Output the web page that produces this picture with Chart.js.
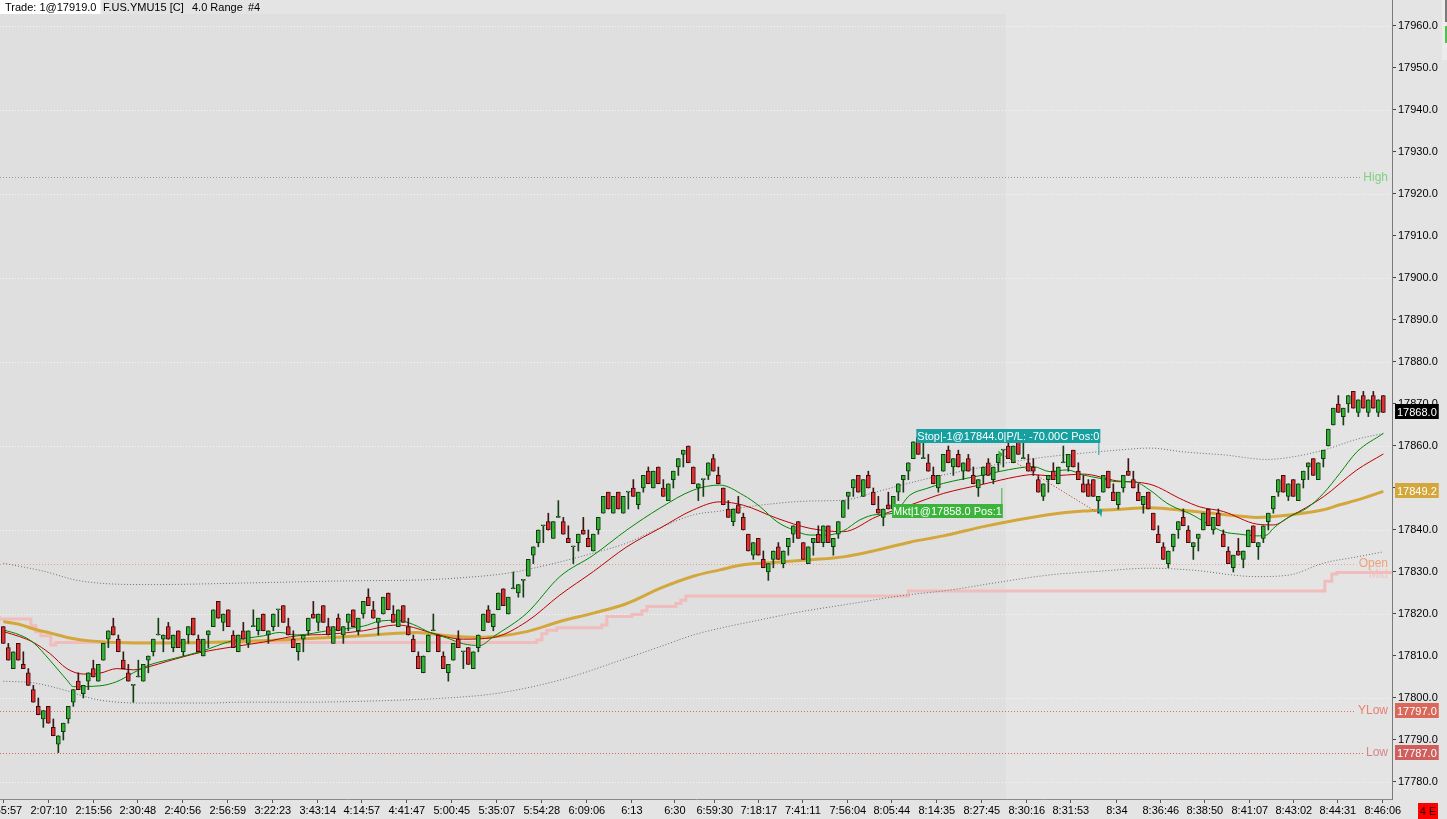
<!DOCTYPE html>
<html>
<head>
<meta charset="utf-8">
<script src="https://cdn.jsdelivr.net/npm/chart.js@4.4.1/dist/chart.umd.min.js"></script>
<style>
  html, body { margin: 0; padding: 0; background: #e4e4e4; overflow: hidden; }
  #wrap { width: 1447px; height: 819px; position: relative; }
</style>
</head>
<body>
<div id="wrap"><canvas id="chartYM"></canvas></div>
<script>

/* range bars, 4.0 points each, one entry per bar */
const opens = [
   17817,17812,17807,17813,17808,17806,17802,17798,17795,17798,
   17793,17789,17792,17795,17799,17804,17801,17804,17807,17804,
   17809,17814,17817,17814,17809,17806,17803,17805,17804,17809,
   17811,17815,17814,17817,17812,17816,17811,17815,17819,17814,
   17810,17815,17817,17823,17818,17821,17815,17811,17816,17813,
   17817,17816,17820,17815,17817,17821,17822,17817,17814,17811,
   17814,17816,17820,17818,17822,17817,17813,17819,17815,17818,
   17821,17816,17820,17824,17821,17818,17820,17825,17820,17817,
   17822,17817,17814,17810,17806,17811,17816,17815,17810,17806,
   17809,17814,17811,17812,17807,17812,17816,17821,17817,17821,
   17826,17820,17826,17825,17828,17829,17834,17837,17841,17842,
   17838,17843,17842,17838,17836,17837,17840,17838,17835,17840,
   17844,17849,17844,17849,17844,17849,17850,17846,17850,17854,
   17850,17855,17850,17847,17852,17855,17858,17860,17855,17850,
   17852,17853,17857,17853,17850,17845,17842,17846,17843,17839,
   17834,17838,17833,17830,17833,17836,17832,17836,17839,17842,
   17837,17832,17837,17839,17837,17841,17836,17839,17843,17848,
   17850,17853,17848,17853,17849,17845,17843,17846,17845,17849,
   17852,17854,17857,17862,17857,17856,17853,17850,17854,17859,
   17855,17858,17854,17857,17853,17850,17853,17856,17852,17856,
   17859,17860,17856,17861,17857,17856,17855,17852,17848,17852,
   17854,17851,17856,17855,17859,17854,17851,17851,17852,17847,
   17849,17854,17849,17846,17850,17854,17852,17849,17846,17849,
   17844,17839,17836,17832,17836,17840,17843,17840,17836,17838,
   17840,17845,17840,17844,17839,17835,17831,17835,17833,17836,
   17841,17836,17838,17842,17845,17849,17853,17848,17852,17847,
   17852,17855,17857,17852,17857,17860,17865,17870,17867,17870,
   17873,17868,17872,17868,17872,17868,17872
];
const highs = [
   17817,17813,17811,17813,17811,17807,17803,17800,17797,17798,
   17795,17791,17794,17798,17802,17806,17803,17806,17809,17808,
   17813,17816,17819,17815,17811,17808,17803,17809,17808,17810,
   17814,17819,17815,17818,17815,17816,17814,17817,17819,17815,
   17814,17816,17821,17823,17820,17821,17816,17815,17818,17816,
   17821,17819,17820,17816,17820,17821,17822,17819,17816,17813,
   17815,17819,17823,17820,17822,17819,17817,17820,17817,17820,
   17821,17819,17823,17826,17823,17819,17824,17825,17822,17821,
   17822,17819,17815,17811,17810,17815,17820,17815,17811,17808,
   17813,17816,17811,17812,17811,17815,17820,17822,17820,17825,
   17826,17824,17830,17827,17828,17833,17836,17840,17841,17844,
   17842,17847,17843,17841,17836,17839,17843,17840,17839,17843,
   17848,17849,17848,17849,17848,17849,17852,17849,17853,17855,
   17854,17855,17852,17851,17854,17857,17859,17860,17855,17851,
   17852,17856,17858,17855,17850,17847,17845,17848,17844,17839,
   17837,17838,17835,17832,17835,17837,17835,17838,17841,17842,
   17837,17836,17838,17841,17841,17841,17838,17842,17847,17849,
   17852,17853,17852,17854,17850,17848,17845,17849,17848,17851,
   17853,17856,17861,17862,17861,17858,17855,17853,17858,17860,
   17857,17859,17856,17858,17855,17852,17855,17857,17855,17858,
   17859,17861,17860,17862,17861,17858,17857,17853,17851,17853,
   17856,17855,17860,17858,17859,17856,17853,17852,17852,17848,
   17853,17854,17851,17849,17853,17857,17854,17851,17848,17849,
   17844,17841,17837,17835,17839,17842,17845,17841,17837,17839,
   17844,17845,17843,17845,17840,17836,17834,17838,17835,17840,
   17841,17837,17841,17844,17848,17852,17853,17851,17852,17851,
   17854,17856,17857,17856,17859,17864,17869,17872,17869,17872,
   17873,17871,17873,17871,17873,17871,17872
];
const lows = [
   17813,17809,17807,17809,17807,17803,17799,17796,17793,17794,
   17791,17787,17790,17794,17798,17802,17800,17802,17805,17804,
   17809,17812,17815,17811,17807,17804,17799,17805,17804,17806,
   17810,17815,17811,17814,17811,17812,17810,17813,17815,17811,
   17810,17812,17817,17819,17816,17817,17812,17811,17814,17812,
   17817,17815,17816,17813,17816,17817,17818,17815,17812,17809,
   17811,17815,17819,17816,17818,17815,17813,17816,17813,17816,
   17817,17815,17819,17822,17819,17815,17820,17821,17818,17817,
   17818,17815,17811,17807,17806,17811,17816,17811,17807,17804,
   17809,17812,17807,17808,17807,17811,17816,17818,17816,17821,
   17822,17820,17826,17824,17824,17829,17832,17836,17837,17840,
   17838,17843,17839,17837,17832,17835,17839,17836,17835,17839,
   17844,17845,17844,17845,17844,17845,17848,17845,17849,17851,
   17850,17851,17848,17847,17850,17853,17855,17856,17851,17847,
   17848,17852,17854,17851,17846,17843,17841,17844,17840,17835,
   17833,17834,17831,17828,17831,17833,17831,17834,17837,17838,
   17833,17832,17834,17837,17836,17837,17834,17838,17843,17845,
   17848,17849,17848,17850,17846,17844,17841,17845,17844,17847,
   17849,17852,17857,17858,17857,17854,17851,17849,17854,17856,
   17853,17855,17852,17854,17851,17848,17851,17853,17851,17854,
   17855,17857,17856,17858,17857,17854,17853,17849,17847,17849,
   17852,17851,17856,17854,17855,17852,17849,17848,17848,17844,
   17849,17850,17847,17845,17849,17853,17850,17847,17844,17845,
   17840,17837,17833,17831,17835,17838,17841,17837,17833,17835,
   17840,17841,17839,17841,17836,17832,17830,17834,17831,17836,
   17837,17833,17837,17840,17844,17848,17849,17847,17848,17847,
   17850,17852,17853,17852,17855,17860,17865,17868,17865,17868,
   17869,17867,17869,17867,17869,17867,17868
];
const closes = [
   17813,17809,17811,17809,17807,17803,17799,17796,17797,17794,
   17791,17791,17794,17798,17802,17802,17803,17806,17805,17808,
   17813,17816,17815,17811,17807,17804,17803,17805,17808,17810,
   17814,17815,17815,17814,17815,17812,17814,17817,17815,17811,
   17814,17816,17821,17819,17820,17817,17812,17815,17814,17816,
   17817,17819,17816,17816,17820,17821,17818,17815,17812,17813,
   17815,17819,17819,17820,17818,17815,17817,17816,17817,17820,
   17817,17819,17823,17822,17819,17819,17824,17821,17818,17821,
   17818,17815,17811,17807,17810,17815,17816,17811,17807,17808,
   17813,17812,17811,17808,17811,17815,17820,17818,17820,17825,
   17822,17824,17826,17827,17828,17833,17836,17840,17841,17840,
   17842,17843,17839,17837,17836,17839,17839,17836,17839,17843,
   17848,17845,17848,17845,17848,17849,17848,17849,17853,17851,
   17854,17851,17848,17851,17854,17857,17859,17856,17851,17851,
   17852,17856,17854,17851,17846,17843,17845,17844,17840,17835,
   17837,17834,17831,17832,17835,17833,17835,17838,17841,17838,
   17833,17836,17838,17837,17841,17837,17838,17842,17847,17849,
   17852,17849,17852,17850,17846,17844,17845,17845,17848,17851,
   17853,17856,17861,17858,17857,17854,17851,17853,17858,17856,
   17857,17855,17856,17854,17851,17852,17855,17853,17855,17858,
   17859,17857,17860,17858,17857,17854,17854,17849,17851,17853,
   17852,17855,17856,17858,17855,17852,17849,17848,17848,17848,
   17853,17850,17847,17849,17853,17853,17850,17847,17848,17845,
   17840,17837,17833,17835,17839,17842,17841,17837,17837,17839,
   17844,17841,17843,17841,17836,17832,17834,17834,17835,17840,
   17837,17837,17841,17844,17848,17852,17849,17851,17848,17851,
   17854,17856,17853,17856,17859,17864,17869,17868,17869,17872,
   17869,17871,17869,17871,17869,17871,17868
];

/* time axis: bar position of each label */
const timeIdx = [0.1, 9.1, 18.1, 26.9, 35.9, 44.9, 53.9, 62.9, 71.7, 80.7, 89.7, 98.7,
   107.7, 116.7, 125.7, 134.3, 142.3, 151.1, 159.9, 168.9, 177.7, 186.7, 195.7, 204.7,
   213.5, 222.7, 231.5, 240.3, 249.3, 258.1, 266.9, 275.9];
const timeLabels = ['1:55:57','2:07:10','2:15:56','2:30:48','2:40:56','2:56:59','3:22:23',
   '3:43:14','4:14:57','4:41:47','5:00:45','5:35:07','5:54:28','6:09:06','6:13','6:30',
   '6:59:30','7:18:17','7:41:11','7:56:04','8:05:44','8:14:35','8:27:45','8:30:16',
   '8:31:53','8:34','8:36:46','8:38:50','8:41:07','8:43:02','8:44:31','8:46:06'];

/* indicator lines, read at sample bars */
const fastIdx = [0,3.3,5.9,9.3,12.7,14,19.3,22.7,26,29.3,32.7,39.3,46,52,55.3,58.7,65.3,72,
   75.3,78.7,82,85.3,88.7,92,95.3,98,104.7,111.3,118,124.7,131.3,138,143.3,148,151.3,154.7,
   158,161.3,164.7,168,171.3,174.7,178,181.3,184.7,188,196,202.7,206,209.3,212.7,216,219.3,
   222.7,226,229.3,232.7,236,237.3,240.7,244,247.3,250.7,252.7,254,257.3,260.7,264,267.3,270.7,276];
const fastVal = [17816.2,17815.0,17813.3,17809.0,17804.3,17802.7,17802.9,17803.9,17806.0,
   17807.9,17809.0,17811.0,17813.7,17814.8,17815.6,17815.0,17816.1,17817.1,17818.3,17818.5,
   17817.5,17815.6,17814.3,17812.9,17812.5,17814.6,17820.2,17828.9,17834.0,17840.0,17845.2,
   17849.5,17850.7,17848.3,17845.6,17842.0,17840.0,17838.8,17838.8,17839.8,17842.4,17843.7,
   17844.0,17848.3,17849.9,17851.1,17853.1,17854.7,17855.1,17853.9,17854.3,17853.1,17852.3,
   17851.5,17851.5,17849.5,17846.4,17844.5,17843.9,17841.6,17839.6,17839.0,17838.6,17838.8,
   17840.4,17843.2,17845.2,17848.7,17853.5,17858.6,17863.0];

const slowIdx = [0,3.3,5.9,9.3,12.7,16,19.3,22.7,26,29.3,32.7,39.3,46,52,58.7,65.3,72,78.7,82,
   85.3,92,98,104.7,111.3,118,124.7,131.3,138,143.3,148,154.7,161.3,168,174.7,181.3,188,196,
   202.7,206,209.3,216,222.7,229.3,236,239.3,244,250.7,254,257.3,264,270.7,276];
const slowVal = [17815.8,17814.6,17813.3,17810.6,17807.0,17805.7,17805.9,17807.0,17806.7,
   17807.5,17808.7,17810.8,17812.2,17813.3,17814.8,17815.2,17816.0,17817.4,17816.8,17815.6,
   17814.0,17814.4,17818.2,17824.5,17830.1,17836.0,17840.4,17844.8,17846.7,17845.9,17842.8,
   17840.4,17839.6,17843.2,17845.9,17848.7,17850.9,17852.7,17853.2,17852.9,17853.3,17851.7,
   17850.9,17847.1,17845.5,17844.4,17841.4,17841.2,17843.2,17847.9,17854.3,17858.1];

const longIdx = [0,3.3,5.9,9.3,13.3,17.3,26,32.7,46,58.7,65.3,72,78.7,82.7,88.7,95.3,98,104.7,
   111.3,118,124.7,131.3,138,143.3,148,154.7,161.3,168,174.7,181.3,188,196,202.7,209.3,216,
   222.7,229.3,237.3,244,250.7,257.3,264,267.3,270.7,276];
const longVal = [17818.2,17817.5,17816.5,17815.5,17814.3,17813.6,17813.1,17813.1,17813.4,
   17814.0,17814.4,17814.8,17815.4,17815.6,17814.8,17814.4,17814.6,17815.8,17818.2,17820.2,
   17822.5,17826.1,17829.0,17830.5,17831.7,17832.3,17832.9,17833.6,17835.2,17837.1,17838.6,
   17840.8,17842.4,17843.7,17844.5,17844.9,17845.3,17844.5,17843.7,17843.0,17843.6,17844.8,
   17846.0,17847.1,17849.2];

const upperIdx = [0,8,15.3,29.3,49.3,69.3,83.3,91.3,101.3,111.3,118,124.7,131.3,138,143.3,
   151.3,161.3,168,174.7,181.3,188,202.7,209.3,216,222.7,229.3,236,239.3,244,252.7,257.3,264,270.7,276];
const upperVal = [17832.1,17830.2,17827.9,17827.0,17827.4,17827.9,17828.1,17828.6,17829.8,
   17832.4,17834.5,17836.9,17840.5,17843.6,17844.5,17845.9,17846.9,17847.1,17849.1,17851.2,
   17853.1,17856.4,17857.5,17858.3,17859.0,17859.5,17858.6,17858.3,17857.9,17856.8,17857.3,
   17859.0,17861.6,17863.0];

const lowerIdx = [0,6,13.3,15.3,19.3,27.3,41.3,47.3,59.3,79.3,91.3,99.3,112,124.7,131.3,138,
   143.3,149.3,159.3,169.3,179.3,189.3,199.3,209.3,219.3,229.3,237.3,250.7,257.3,264,270.7,276];
const lowerVal = [17804.0,17803.6,17801.5,17800.7,17799.5,17798.8,17798.8,17799.0,17799.0,
   17799.5,17800.2,17801.2,17804.5,17809.5,17812.2,17815.0,17816.6,17818.1,17820.5,17822.4,
   17824.3,17825.7,17827.6,17829.3,17830.2,17830.9,17830.5,17828.9,17829.3,17832.1,17833.6,17834.8];

/* stepped mid line: bar where each step starts */
const midIdx = [-0.7,5.5,6.5,7.5,9.5,10.5,106.7,107.7,108.7,110.7,119.7,120.7,125.7,127.7,
   128.7,134.5,135.5,136.5,181,264.3,265.7,266.7,269.7,277.7];
const midVal = [17819.4,17818.8,17817.2,17815.8,17814.8,17812.6,17813.2,17813.8,17815.3,
   17816.1,17816.7,17817.4,17819.4,17819.9,17820.8,17821.8,17822.5,17823.3,17824.3,17825.5,
   17827.8,17829.5,17829.9,17829.9];

/* session levels */
const levelNames = ['High', 'Open', 'YLow', 'Low'];
const levelValues = [17924, 17832, 17797, 17787];

/* trade: entry bar / exit bar and prices */
const tradeIdx = [199, 219];
const tradePx = [17858, 17844];
const tradeText = ['Mkt|1@17858.0 Pos:1', 'Stop|-1@17844.0|P/L: -70.00C Pos:0'];
const titleParts = ['Trade: 1@17919.0', 'F.US.YMU15 [C]', '4.0 Range', '#4'];

const FONT = "'Liberation Sans', Arial, sans-serif";

const pts = (xs, ys) => xs.map((x, i) => ({x: x, y: ys[i]}));
const up = opens.map((o, i) => closes[i] >= o);

function lineSet(data, color, width, dash, order) {
   return {
      type: 'line', data: data, borderColor: color, borderWidth: width,
      borderDash: dash, pointRadius: 0, cubicInterpolationMode: 'monotone',
      fill: false, order: order
   };
}

function hline(ctx, x0, x1, py, color, dash) {
   ctx.save();
   ctx.strokeStyle = color;
   ctx.lineWidth = 1;
   ctx.setLineDash(dash);
   ctx.beginPath();
   ctx.moveTo(x0, Math.round(py) + 0.5);
   ctx.lineTo(x1, Math.round(py) + 0.5);
   ctx.stroke();
   ctx.restore();
}

function tag(ctx, x, py, text, bg) {
   ctx.font = '11px ' + FONT;
   let w = ctx.measureText(text).width + 4;
   ctx.fillStyle = bg;
   ctx.fillRect(x, Math.round(py) - 8, w, 15);
   ctx.fillStyle = '#ffffff';
   ctx.textAlign = 'left';
   ctx.textBaseline = 'middle';
   ctx.fillText(text, x + 2, Math.round(py) + 0.5);
}

const levelColors = {
   High: ['#9a9a9a', '#7fd07f'],
   Open: ['#e2a283', '#f0a078'],
   YLow: ['#e06a5c', '#e8806e'],
   Low:  ['#d46060', '#d98484']
};

const overlay = {
   id: 'overlay',
   beforeDraw(chart) {
      const {ctx, chartArea: a, scales: {x}} = chart;
      ctx.save();
      ctx.fillStyle = '#e4e4e4';
      ctx.fillRect(0, 0, chart.width, chart.height);
      /* earlier part of the session is a shade darker */
      let xs = x.getPixelForValue(tradeIdx[0] + 1.5);
      ctx.fillStyle = '#dfdfdf';
      ctx.fillRect(a.left, 14, xs - a.left, a.bottom - 14);
      ctx.restore();
   },
   beforeDatasetsDraw(chart) {
      const {ctx, chartArea: a, scales: {y}} = chart;
      /* dotted grid every 20 points */
      y.ticks.filter(t => t.value % 20 === 0).forEach(t => {
         hline(ctx, a.left, a.right, y.getPixelForValue(t.value), '#f6f6f6', [1, 2]);
      });
      ctx.save();
      ctx.font = '12px ' + FONT;
      levelNames.forEach((n, i) => {
         let w = ctx.measureText(n).width;
         hline(ctx, a.left, a.right - w - 6, y.getPixelForValue(levelValues[i]),
            levelColors[n][0], [1, 2]);
      });
      /* Mid text sits under the pink step line */
      ctx.fillStyle = '#f3c3c3';
      ctx.textAlign = 'right';
      ctx.textBaseline = 'middle';
      ctx.fillText('Mid', a.right - 4, y.getPixelForValue(midVal[midVal.length - 1]) + 2);
      ctx.restore();
   },
   afterDatasetsDraw(chart) {
      const {ctx, chartArea: a, scales: {x, y}} = chart;
      ctx.save();
      /* level names on the right edge */
      ctx.font = '12px ' + FONT;
      ctx.textAlign = 'right';
      ctx.textBaseline = 'middle';
      levelNames.forEach((n, i) => {
         ctx.fillStyle = levelColors[n][1];
         ctx.fillText(n, a.right - 4, y.getPixelForValue(levelValues[i]) + 0.5);
      });

      /* trade line */
      let ex = x.getPixelForValue(tradeIdx[0]), ey = y.getPixelForValue(tradePx[0]);
      let sx = x.getPixelForValue(tradeIdx[1]), sy = y.getPixelForValue(tradePx[1]);
      ctx.strokeStyle = '#d42020';
      ctx.lineWidth = 1;
      ctx.setLineDash([1, 2]);
      ctx.beginPath();
      ctx.moveTo(ex + 4, ey);
      ctx.lineTo(sx, sy);
      ctx.stroke();
      ctx.setLineDash([]);

      /* entry marker */
      ctx.fillStyle = '#2fb52f';
      ctx.beginPath();
      ctx.moveTo(ex, ey - 4);
      ctx.lineTo(ex + 5, ey);
      ctx.lineTo(ex, ey + 4);
      ctx.closePath();
      ctx.fill();
      /* exit marker */
      ctx.fillStyle = '#17a3a3';
      ctx.beginPath();
      ctx.moveTo(sx - 1, sy - 4);
      ctx.lineTo(sx + 4, sy - 4);
      ctx.lineTo(sx + 3, sy + 4);
      ctx.closePath();
      ctx.fill();

      /* entry label box */
      ctx.font = '11px ' + FONT;
      let w0 = ctx.measureText(tradeText[0]).width + 2;
      let bx0 = ex + 4.5 - w0, by0 = Math.round(ey + 50);
      ctx.fillStyle = '#3cb43c';
      ctx.fillRect(bx0, by0, w0, 14);
      ctx.fillRect(ex + 3, by0 - 16, 1, 16);
      ctx.fillStyle = '#ffffff';
      ctx.textAlign = 'left';
      ctx.textBaseline = 'middle';
      ctx.fillText(tradeText[0], bx0 + 1, by0 + 7.5);

      /* exit label box */
      let w1 = ctx.measureText(tradeText[1]).width + 2;
      let bx1 = sx + 2 - w1, by1 = Math.round(sy - 84);
      ctx.fillStyle = '#17a0a0';
      ctx.fillRect(bx1, by1, w1, 14);
      ctx.fillRect(sx, by1 + 14, 1, 12);
      ctx.fillStyle = '#ffffff';
      ctx.fillText(tradeText[1], bx1 + 1, by1 + 7.5);
      ctx.restore();
   },
   afterDraw(chart) {
      const {ctx, chartArea: a, scales: {y}} = chart;
      ctx.save();
      let bx = a.right + 3;
      tag(ctx, bx, y.getPixelForValue(closes[closes.length - 1]),
         closes[closes.length - 1].toFixed(1), '#000000');
      tag(ctx, bx, y.getPixelForValue(longVal[longVal.length - 1]),
         longVal[longVal.length - 1].toFixed(1), '#d4a73c');
      tag(ctx, bx, y.getPixelForValue(levelValues[2]), levelValues[2].toFixed(1), '#d9685b');
      tag(ctx, bx, y.getPixelForValue(levelValues[3]), levelValues[3].toFixed(1), '#cf5e5e');

      /* header */
      ctx.font = '11px ' + FONT;
      ctx.textBaseline = 'middle';
      ctx.textAlign = 'left';
      let tw = ctx.measureText(titleParts[0]).width;
      ctx.fillStyle = '#ffffff';
      ctx.fillRect(0, 0, tw + 9, 14);
      ctx.fillStyle = '#000000';
      ctx.fillText(titleParts[0], 5, 7.5);
      ctx.fillText(titleParts[1], 103, 7.5);
      ctx.fillText(titleParts[2], 192, 7.5);
      ctx.fillText(titleParts[3], 248, 7.5);

      /* corner widgets */
      ctx.fillStyle = '#ff0000';
      ctx.fillRect(1418, 803, 20, 16);
      ctx.fillStyle = '#300000';
      ctx.textAlign = 'center';
      ctx.fillText('4 E', 1428, 811.5);
      ctx.fillStyle = '#ececec';
      ctx.fillRect(1442, 0, 5, 60);
      ctx.fillStyle = '#7a7a7a';
      ctx.fillRect(1445, 0, 2, 22);
      ctx.fillStyle = '#4cc24c';
      ctx.fillRect(1445, 26, 2, 17);
      ctx.restore();
   }
};

const ctx = document.getElementById('chartYM');

const config = {
   type: 'line',
   data: {
      datasets: [
         lineSet(pts(upperIdx, upperVal), '#6e6e6e', 1, [1, 2], 6),
         lineSet(pts(lowerIdx, lowerVal), '#6e6e6e', 1, [1, 2], 6),
         {
            type: 'line', data: pts(midIdx, midVal), stepped: 'after',
            borderColor: '#f1bcbc', borderWidth: 3, pointRadius: 0, fill: false, order: 7
         },
         lineSet(pts(longIdx, longVal), '#d4a73c', 3, [], 5),
         lineSet(pts(slowIdx, slowVal), '#c00000', 1, [], 4),
         lineSet(pts(fastIdx, fastVal), '#008a00', 1, [], 3),
         {
            type: 'bar', data: lows.map((l, i) => ({x: i, y: [l, highs[i]]})),
            grouped: false, barThickness: 1,
            backgroundColor: up.map(u => u ? '#173d17' : '#3d1414'), order: 1
         },
         {
            type: 'bar', data: opens.map((o, i) => ({x: i, y: [o, closes[i]]})),
            grouped: false, barThickness: 4, minBarLength: 1,
            borderWidth: 1, borderSkipped: false,
            borderColor: up.map(u => u ? '#123812' : '#3a0e0e'),
            backgroundColor: up.map(u => u ? '#33b233' : '#e3302f'), order: 0
         }
      ]
   },
   options: {
      responsive: true,
      maintainAspectRatio: false,
      devicePixelRatio: 1,
      animation: false,
      events: [],
      layout: {padding: 0},
      plugins: {legend: {display: false}, tooltip: {enabled: false}},
      scales: {
         x: {
            type: 'linear',
            min: -0.667,
            max: 277.73,
            offset: false,
            afterBuildTicks: s => { s.ticks = timeIdx.map(v => ({value: v})); },
            afterFit: s => { s.height = 20; s.paddingLeft = 0; s.paddingRight = 0; },
            ticks: {
               autoSkip: false, maxRotation: 0, padding: 1,
               color: '#000', font: {family: FONT, size: 11},
               callback: (v, i) => timeLabels[i]
            },
            grid: {drawOnChartArea: false, offset: false, tickLength: 4, tickColor: '#555'},
            border: {color: '#8a8a8a'}
         },
         y: {
            type: 'linear',
            position: 'right',
            min: 17775.95,
            max: 17966.19,
            afterFit: s => { s.width = 55; s.paddingTop = 0; s.paddingBottom = 0; },
            ticks: {
               stepSize: 10, includeBounds: false, padding: 2,
               color: '#000', font: {family: FONT, size: 11},
               callback: v => v.toFixed(1)
            },
            grid: {drawOnChartArea: false, tickLength: 4, tickColor: '#444'},
            border: {color: '#7a7a7a'}
         }
      }
   },
   plugins: [overlay]
};

new Chart(ctx, config);
</script>
</body>
</html>
